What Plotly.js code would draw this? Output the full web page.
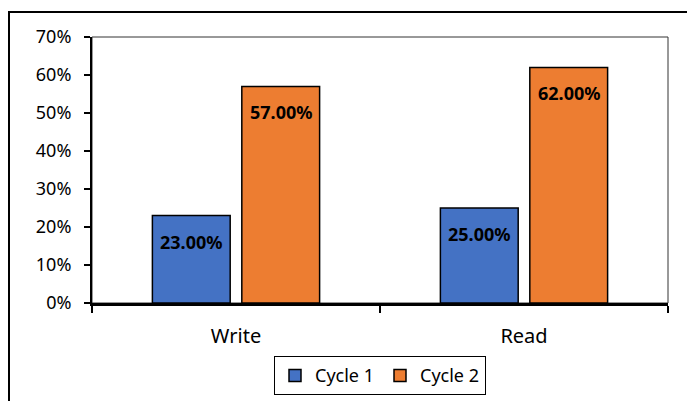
<!DOCTYPE html>
<html>
<head>
<meta charset="utf-8">
<script src="https://cdn.plot.ly/plotly-3.0.1.min.js"></script>
<style>
html, body { margin: 0; padding: 0; overflow: hidden; background: #fff; }
#wrap { position: relative; width: 687px; height: 401px; overflow: hidden; }
#chart { width: 687px; height: 401px; }
#frame { position: absolute; left: 8px; top: 11px; width: 720px; height: 440px; border: 2px solid #000; pointer-events: none; }
</style>
</head>
<body>
<div id="wrap">
<div id="chart"></div>
<div id="frame"></div>
</div>
<script>
const categories = ['Write', 'Read'];
const seriesNames = ['Cycle 1', 'Cycle 2'];
const cycle1 = [0.23, 0.25];
const cycle2 = [0.57, 0.62];
const yTickVals = [0, 0.1, 0.2, 0.3, 0.4, 0.5, 0.6, 0.7];
const colors = ['#4472C4', '#ED7D31'];

const allSeries = [cycle1, cycle2];
const font = 'Noto Sans, Open Sans, sans-serif';

const traces = allSeries.map((vals, i) => ({
  type: 'bar',
  name: seriesNames[i],
  x: categories,
  y: vals,
  marker: { color: colors[i], line: { color: '#000', width: 1.5 } },
  hoverinfo: 'none'
}));

const shifts = [-44.75, 44.75];
const annotations = [];
allSeries.forEach((vals, i) => {
  vals.forEach((v, j) => {
    annotations.push({
      x: categories[j], y: v, xref: 'x', yref: 'y',
      text: '<b>' + (v * 100).toFixed(2) + '%</b>',
      showarrow: false, xshift: shifts[i], yshift: -26,
      yanchor: 'middle', xanchor: 'center',
      font: { family: font, size: 18, color: '#000' }
    });
  });
});

const layout = {
  width: 687, height: 401,
  margin: { l: 92, r: 19, t: 37, b: 98, autoexpand: false },
  paper_bgcolor: '#fff', plot_bgcolor: '#fff',
  font: { family: font, color: '#000' },
  barmode: 'group',
  bargap: 0.379,
  bargroupgap: 0.13,
  showlegend: true,
  legend: {
    orientation: 'h', x: 0.5, xanchor: 'center', y: -0.2, yanchor: 'top',
    bordercolor: '#000', borderwidth: 1,
    font: { family: font, size: 18, color: '#000' },
    itemwidth: 30, tracegroupgap: 0,
    entrywidth: 60, entrywidthmode: 'pixels'
  },
  xaxis: {
    type: 'category',
    showline: true, linecolor: '#000', linewidth: 2.5,
    ticks: 'outside', tickson: 'boundaries', ticklen: 7, tickwidth: 2, tickcolor: '#000',
    tickfont: { family: font, size: 20, color: '#000' },
    ticklabelstandoff: 13,
    showgrid: false, zeroline: false, fixedrange: true
  },
  yaxis: {
    range: [0, 0.7],
    tickvals: yTickVals,
    tickformat: '.0%',
    showline: true, linecolor: '#000', linewidth: 2,
    ticks: 'outside', ticklen: 6, tickwidth: 2, tickcolor: '#000',
    tickfont: { family: font, size: 18, color: '#000' },
    ticklabelstandoff: 9,
    showgrid: false, zeroline: false, fixedrange: true
  },
  shapes: [{
    type: 'rect', xref: 'paper', yref: 'paper', x0: 0, x1: 1, y0: 0, y1: 1,
    line: { color: '#333', width: 1 }, layer: 'below'
  }],
  annotations: annotations
};

Plotly.newPlot('chart', traces, layout, { displayModeBar: false, staticPlot: true });
</script>
</body>
</html>
